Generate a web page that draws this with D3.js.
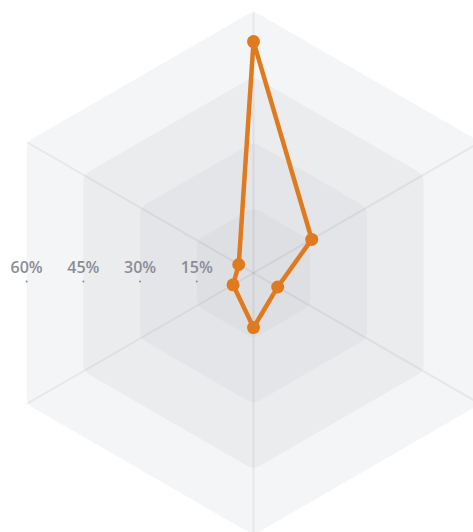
<!DOCTYPE html>
<html><head><meta charset="utf-8">
<script src="https://cdn.jsdelivr.net/npm/d3@7/dist/d3.min.js"></script>
<style>html,body{margin:0;padding:0;background:#fff;overflow:hidden}</style>
</head><body>
<svg id="chart" width="473" height="532"></svg>
<script>
const axes = ["A", "B", "C", "D", "E", "F"];
const values = [53, 15.4, 6.4, 12.5, 5.4, 3.9];
const tickValues = [15, 30, 45, 60];
const tickLabels = ["15%", "30%", "45%", "60%"];

const W = 473, H = 532, cx = 253.5, cy = 273, R = 262, maxV = 60;
const svg = d3.select("#chart");
const r = d3.scaleLinear().domain([0, maxV]).range([0, R]);
const n = axes.length;
const ang = i => -Math.PI / 2 + i * 2 * Math.PI / n;
const pt = (v, i) => [cx + r(v) * Math.cos(ang(i)), cy + r(v) * Math.sin(ang(i))];

function roundedPoly(pts, rad) {
  const m = pts.length;
  let d = "";
  for (let i = 0; i < m; i++) {
    const p = pts[i], a = pts[(i - 1 + m) % m], b = pts[(i + 1) % m];
    const la = Math.hypot(a[0] - p[0], a[1] - p[1]), lb = Math.hypot(b[0] - p[0], b[1] - p[1]);
    const s = [p[0] + (a[0] - p[0]) * rad / la, p[1] + (a[1] - p[1]) * rad / la];
    const e = [p[0] + (b[0] - p[0]) * rad / lb, p[1] + (b[1] - p[1]) * rad / lb];
    d += (i === 0 ? "M" : "L") + s[0] + "," + s[1] + "Q" + p[0] + "," + p[1] + " " + e[0] + "," + e[1];
  }
  return d + "Z";
}

const bandColors = ["#dedfe3", "#e4e5e8", "#ebecee", "#f4f5f7"];
const line = d3.line();
for (let k = tickValues.length - 1; k >= 0; k--) {
  const v = tickValues[k];
  const poly = axes.map((a, i) => pt(v, i));
  svg.append("path").attr("d", roundedPoly(poly, 7)).attr("fill", bandColors[k]).attr("stroke", "none");
}
axes.forEach((a, i) => {
  const p = pt(maxV, i);
  svg.append("line").attr("x1", cx).attr("y1", cy).attr("x2", p[0]).attr("y2", p[1])
    .attr("stroke", "#000").attr("stroke-opacity", 0.055).attr("stroke-width", 2);
});
tickValues.forEach((v, k) => {
  const x = cx - r(v) * Math.cos(Math.PI / 6);
  svg.append("text").attr("x", x).attr("y", cy - 0.3).attr("text-anchor", "middle")
    .attr("font-family", "Open Sans, sans-serif").attr("font-weight", 600).attr("font-size", 16)
    .attr("fill", "#8a8c95").text(tickLabels[k]);
  svg.append("circle").attr("cx", x).attr("cy", cy + 8.5).attr("r", 1).attr("fill", "#8a8c95");
});
const dataPts = values.map((v, i) => pt(v, i));
svg.append("path").attr("d", line(dataPts) + "Z").attr("fill", "none")
  .attr("stroke", "#e07a1e").attr("stroke-width", 4.5).attr("stroke-linejoin", "round");
svg.selectAll(".dot").data(values).enter().append("circle")
  .attr("cx", (v, i) => pt(v, i)[0]).attr("cy", (v, i) => pt(v, i)[1])
  .attr("r", 6.5).attr("fill", "#e07a1e");
</script>
</body></html>
